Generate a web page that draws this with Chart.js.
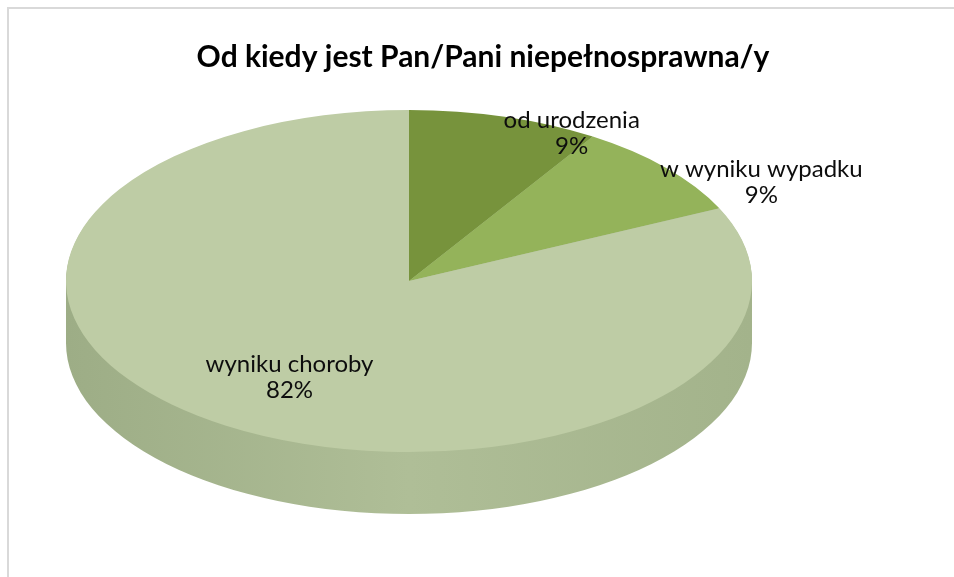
<!DOCTYPE html>
<html>
<head>
<meta charset="utf-8">
<script src="https://cdn.jsdelivr.net/npm/chart.js@4"></script>
<style>
    html, body { margin: 0; padding: 0; background: #fff; overflow: hidden; }
    #frame { position: absolute; left: 7px; top: 7px; width: 1000px; height: 700px;
             border-left: 2px solid #d9d9d9; border-top: 2px solid #d9d9d9; }
    #chart { position: absolute; left: 0; top: 0; }
</style>
</head>
<body>
<div id="frame"></div>
<canvas id="chart" width="954" height="577"></canvas>
<script>
// chart data
const categories = ['od urodzenia', 'w wyniku wypadku', 'wyniku choroby'];
const shares = [9, 9, 82];
const percentLabels = ['9%', '9%', '82%'];
const sliceColors = ['#77933C', '#94B35A', '#BECCA5'];

// draws the pie as a tilted disc: side wall first, then squashes the top face
const pie3d = {
    id: 'pie3d',
    beforeDatasetsDraw(chart, args, opts) {
        const ctx = chart.ctx;
        const arcs = chart.getDatasetMeta(0).data;
        const a0 = arcs[0];
        const R = a0.outerRadius;
        const sx = opts.rx / R, sy = opts.ry / R;

        // side wall (union of the disc shifted down)
        ctx.save();
        ctx.beginPath();
        for (let k = 1; k <= opts.depth; k++) {
            ctx.setTransform(sx, 0, 0, sy, opts.cx - a0.x * sx, opts.cy + k - a0.y * sy);
            ctx.moveTo(a0.x + R, a0.y);
            ctx.arc(a0.x, a0.y, R, 0, Math.PI * 2);
        }
        ctx.setTransform(1, 0, 0, 1, 0, 0);
        const grad = ctx.createLinearGradient(opts.cx - opts.rx, 0, opts.cx + opts.rx, 0);
        grad.addColorStop(0, '#9DAD86');
        grad.addColorStop(0.5, '#AFBE97');
        grad.addColorStop(1, '#A3B38B');
        ctx.fillStyle = grad;
        ctx.fill('nonzero');
        ctx.restore();

        // top face
        ctx.save();
        ctx.translate(opts.cx, opts.cy);
        ctx.scale(sx, sy);
        ctx.translate(-a0.x, -a0.y);
    },
    afterDatasetsDraw(chart, args, opts) {
        const ctx = chart.ctx;
        ctx.restore();

        const arcs = chart.getDatasetMeta(0).data;
        ctx.save();
        ctx.font = '24px Lato';
        ctx.fillStyle = '#0d0d0d';
        ctx.textAlign = 'center';
        ctx.textBaseline = 'alphabetic';
        arcs.forEach(function(arc, i) {
            const mid = (arc.startAngle + arc.endAngle) / 2;
            const place = opts.labelPlace[i];
            const x = opts.cx + Math.cos(mid) * opts.rx * place[0] + place[1];
            const y = opts.cy + Math.sin(mid) * opts.ry * place[0] + place[2];
            ctx.fillText(categories[i], x, y);
            ctx.fillText(percentLabels[i], x, y + 26);
        });
        ctx.restore();
    }
};

const ctx = document.getElementById('chart').getContext('2d');
window.pieChart = new Chart(ctx, {
    type: 'pie',
    data: {
        labels: categories,
        datasets: [{
            data: shares,
            backgroundColor: sliceColors,
            borderWidth: 0,
            clip: false
        }]
    },
    options: {
        responsive: false,
        animation: false,
        layout: {
            padding: { left: 12, right: 0, top: 0, bottom: 0 }
        },
        plugins: {
            legend: { display: false },
            tooltip: { enabled: false },
            title: {
                display: true,
                text: 'Od kiedy jest Pan/Pani niepełnosprawna/y',
                color: '#000',
                font: { family: 'Lato', size: 30, weight: 'bold', lineHeight: 1.2 },
                padding: { top: 39, bottom: 10 }
            },
            pie3d: {
                cx: 409,
                cy: 281,
                rx: 343,
                ry: 171,
                depth: 62,
                labelPlace: [[1, 67, 11], [1, 95, 9], [0.65, 0, -3]]
            }
        }
    },
    plugins: [pie3d]
});
</script>
</body>
</html>
